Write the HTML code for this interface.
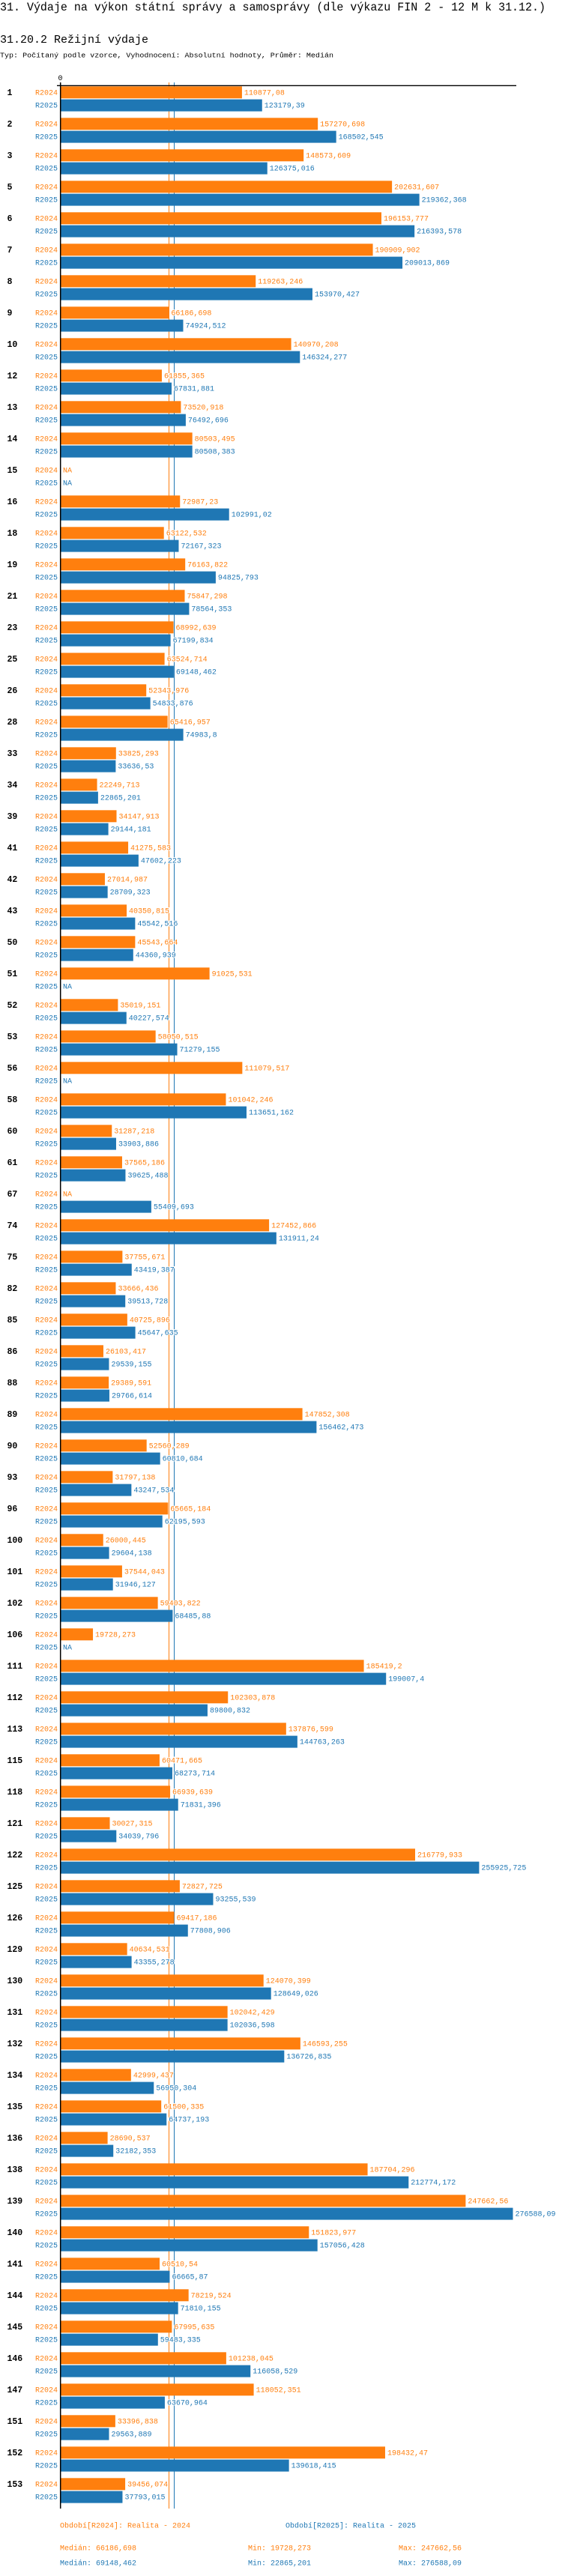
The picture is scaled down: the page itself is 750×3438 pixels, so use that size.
<!DOCTYPE html>
<html><head><meta charset="utf-8">
<style>
html,body{margin:0;padding:0;background:#fff;}
body{width:750px;height:3438px;overflow:hidden;position:relative;}
svg{position:absolute;left:0;top:0;}
text{font-family:"Liberation Mono",monospace;}
</style></head>
<body>
<svg id="chart" width="750" height="3438" viewBox="0 0 750 3438">
  <text x="0" y="14" font-size="16" fill="#000" textLength="728" lengthAdjust="spacingAndGlyphs">31. Výdaje na výkon státní správy a samosprávy (dle výkazu FIN 2 - 12 M k 31.12.)</text>
  <text x="0" y="57" font-size="15" fill="#000" textLength="198" lengthAdjust="spacingAndGlyphs">31.20.2 Režijní výdaje</text>
  <text x="0" y="76.5" font-size="9.6" fill="#000" textLength="445" lengthAdjust="spacingAndGlyphs">Typ: Počítaný podle vzorce, Vyhodnocení: Absolutní hodnoty, Průměr: Medián</text>
  <text x="80.5" y="107" font-size="10" text-anchor="middle" fill="#000">0</text>
  <g id="lines"></g>
  <g id="bars"></g>
  <g id="labels"></g>
  <line x1="76" y1="114.3" x2="689" y2="114.3" stroke="#000" stroke-width="1.3"/>
  <line x1="80.7" y1="110" x2="80.7" y2="3348" stroke="#000" stroke-width="1.5"/>
  <g font-size="10">
    <text x="80" y="3373.5" fill="#ff7f0e">Období[R2024]: Realita - 2024</text>
    <text x="381" y="3373.5" fill="#1f77b4">Období[R2025]: Realita - 2025</text>
    <text x="80" y="3403.5" fill="#ff7f0e">Medián: 66186,698</text>
    <text x="331" y="3403.5" fill="#ff7f0e">Min: 19728,273</text>
    <text x="532" y="3403.5" fill="#ff7f0e">Max: 247662,56</text>
    <text x="80" y="3423.5" fill="#1f77b4">Medián: 69148,462</text>
    <text x="331" y="3423.5" fill="#1f77b4">Min: 22865,201</text>
    <text x="532" y="3423.5" fill="#1f77b4">Max: 276588,09</text>
  </g>
</svg>
<script>
const categories = ["1","2","3","5","6","7","8","9","10","12","13","14","15","16","18","19","21","23","25","26","28","33","34","39","41","42","43","50","51","52","53","56","58","60","61","67","74","75","82","85","86","88","89","90","93","96","100","101","102","106","111","112","113","115","118","121","122","125","126","129","130","131","132","134","135","136","138","139","140","141","144","145","146","147","151","152","153"];
const r2024 = [110877.08,157270.698,148573.609,202631.607,196153.777,190909.902,119263.246,66186.698,140970.208,61855.365,73520.918,80503.495,null,72987.23,63122.532,76163.822,75847.298,68992.639,63524.714,52343.976,65416.957,33825.293,22249.713,34147.913,41275.583,27014.987,40350.815,45543.664,91025.531,35019.151,58050.515,111079.517,101042.246,31287.218,37565.186,null,127452.866,37755.671,33666.436,40725.896,26103.417,29389.591,147852.308,52560.289,31797.138,65665.184,26000.445,37544.043,59403.822,19728.273,185419.2,102303.878,137876.599,60471.665,66939.639,30027.315,216779.933,72827.725,69417.186,40634.531,124070.399,102042.429,146593.255,42999.437,61500.335,28690.537,187704.296,247662.56,151823.977,60510.54,78219.524,67995.635,101238.045,118052.351,33396.838,198432.47,39456.074];
const r2025 = [123179.39,168502.545,126375.016,219362.368,216393.578,209013.869,153970.427,74924.512,146324.277,67831.881,76492.696,80508.383,null,102991.02,72167.323,94825.793,78564.353,67199.834,69148.462,54833.876,74983.8,33636.53,22865.201,29144.181,47602.223,28709.323,45542.516,44360.939,null,40227.574,71279.155,null,113651.162,33903.886,39625.488,55409.693,131911.24,43419.387,39513.728,45647.635,29539.155,29766.614,156462.473,60810.684,43247.534,62195.593,29604.138,31946.127,68485.88,null,199007.4,89800.832,144763.263,68273.714,71831.396,34039.796,255925.725,93255.539,77808.906,43355.278,128649.026,102036.598,136726.835,56950.304,64737.193,32182.353,212774.172,276588.09,157056.428,66665.87,71810.155,59483.335,116058.529,63670.964,29563.889,139618.415,37793.015];
const medians = [66186.698, 69148.462];
const seriesNames = ["R2024","R2025"];

const NS = "http://www.w3.org/2000/svg";
const X0 = 81, XMAX_V = 276588.09, XMAX_PX = 603.5;
function xScale(v){ return X0 + v / XMAX_V * XMAX_PX; }
function yBarTop(i, s){ return 115.3 + i*42 + s*17.3; }
const colors = ["#ff7f0e","#1f77b4"];
function fmt(v){ return String(v).replace('.', ','); }
const bars = document.getElementById('bars');
const labels = document.getElementById('labels');
const lines = document.getElementById('lines');

medians.forEach((m, s) => {
  const l = document.createElementNS(NS, 'line');
  
  
  const x = Math.round(xScale(m)) + 0.5;
  l.setAttribute('x1', x); l.setAttribute('x2', x);
  l.setAttribute('y1', 110); l.setAttribute('y2', 3348);
  l.setAttribute('stroke', colors[s]); l.setAttribute('stroke-width', 1);
  lines.appendChild(l);
});

categories.forEach((c, i) => {
  const ct = document.createElementNS(NS, 'text');
  
  
  ct.setAttribute('x', 9.5); ct.setAttribute('y', yBarTop(i,0) + 11.5);
  ct.setAttribute('font-size', '11.5'); ct.setAttribute('font-weight', 'bold');
  ct.setAttribute('fill', '#000');
  ct.textContent = c;
  labels.appendChild(ct);
  [r2024, r2025].forEach((arr, s) => {
    const v = arr[i];
    const yt = yBarTop(i, s);
    const sl = document.createElementNS(NS, 'text');
    
    
    sl.setAttribute('x', 77); sl.setAttribute('y', yt + 11);
    sl.setAttribute('font-size', '10'); sl.setAttribute('text-anchor', 'end');
    sl.setAttribute('fill', colors[s]);
    sl.textContent = seriesNames[s];
    labels.appendChild(sl);
    let endX = X0;
    if (v !== null) {
      const r = document.createElementNS(NS, 'rect');
      
      
      endX = xScale(v);
      r.setAttribute('x', X0); r.setAttribute('y', yt);
      r.setAttribute('width', endX - X0); r.setAttribute('height', 16);
      r.setAttribute('fill', colors[s]);
      bars.appendChild(r);
    }
    const vl = document.createElementNS(NS, 'text');
    
    
    vl.setAttribute('x', endX + 3); vl.setAttribute('y', yt + 11);
    vl.setAttribute('font-size', '10');
    vl.setAttribute('fill', colors[s]);
    vl.setAttribute('stroke', '#fff'); vl.setAttribute('stroke-width', '2');
    vl.setAttribute('paint-order', 'stroke');
    vl.textContent = v === null ? 'NA' : fmt(v);
    labels.appendChild(vl);
  });
});
</script>
</body></html>
